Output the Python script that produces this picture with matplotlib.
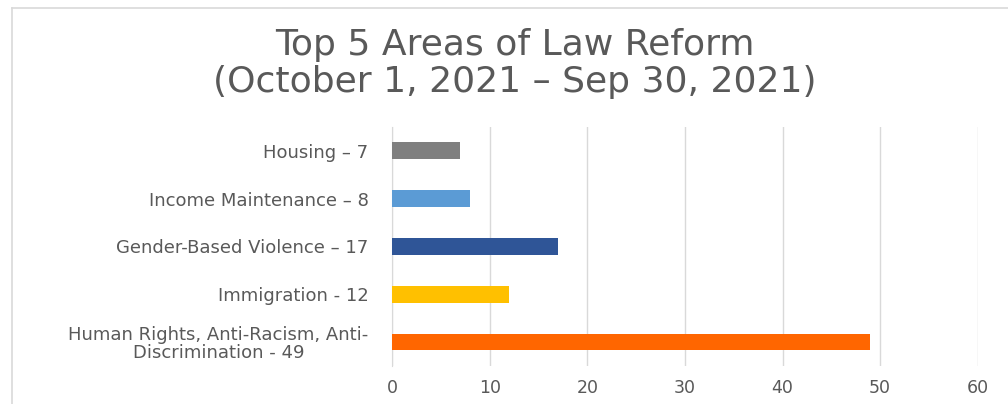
import matplotlib.pyplot as plt
from matplotlib.lines import Line2D

categories = ['Housing – 7', 'Income Maintenance – 8', 'Gender-Based Violence – 17',
              'Immigration - 12', 'Human Rights, Anti-Racism, Anti-\nDiscrimination - 49']
values = [7, 8, 17, 12, 49]
colors = ['#7f7f7f', '#5b9bd5', '#2f5597', '#ffc000', '#ff6600']
x_ticks = [0, 10, 20, 30, 40, 50, 60]

plt.rcParams['font.family'] = ['DejaVu Sans']

fig = plt.figure(figsize=(10.08, 4.04), dpi=100)
ax = fig.add_axes([0.389, 0.094, 0.581, 0.592])

ypos = list(range(len(values)))[::-1]
ax.barh(ypos, values, height=0.35, color=colors, zorder=3)

ax.set_xlim(0, 60)
ax.set_ylim(-0.5, 4.5)
ax.set_xticks(x_ticks)
ax.set_yticks(ypos)
ax.set_yticklabels(categories, fontsize=13, color='#595959', linespacing=1.0,
                   multialignment='center')
ax.tick_params(axis='x', labelsize=12.5, colors='#595959', length=0, pad=9)
ax.tick_params(axis='y', length=0, pad=17)
ax.grid(axis='x', color='#d9d9d9', linewidth=1, zorder=0)
for s in ['top', 'right', 'bottom']:
    ax.spines[s].set_visible(False)
ax.spines['left'].set_color('#d9d9d9')

fig.text(0.511, 0.888, 'Top 5 Areas of Law Reform', ha='center', va='center',
         fontsize=26, color='#595959')
fig.text(0.511, 0.797, '(October 1, 2021 – Sep 30, 2021)', ha='center', va='center',
         fontsize=26, color='#595959')

# outer chart border (left and top)
fig.add_artist(Line2D([12 / 1008, 12 / 1008], [0, 1 - 8 / 404], transform=fig.transFigure,
                      color='#d9d9d9', linewidth=1.2))
fig.add_artist(Line2D([12 / 1008, 1], [1 - 8 / 404, 1 - 8 / 404], transform=fig.transFigure,
                      color='#d9d9d9', linewidth=1.2))

fig.savefig('out.png', dpi=100)
